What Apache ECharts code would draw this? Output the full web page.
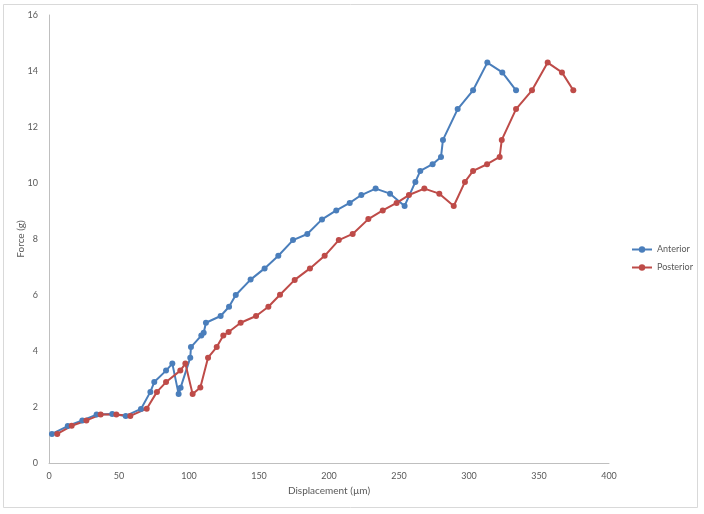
<!DOCTYPE html>
<html>
<head>
<meta charset="utf-8">
<script src="https://cdn.jsdelivr.net/npm/echarts@6/dist/echarts.min.js"></script>
<style>
  html, body { margin: 0; padding: 0; background: #fff; }
  #chart { width: 704px; height: 514px; }
</style>
</head>
<body>
<div id="chart"></div>
<script>
// displacement (µm) and force (g)
const anteriorX = [2.1, 13.4, 23.8, 34, 45.2, 54.8, 65.7, 72.4, 75.2, 83.6, 88.1, 92.6, 94, 100.9, 101.4,
  108.8, 110.5, 112.1, 122.6, 128.6, 133.4, 144, 154, 163.8, 174.3, 184.5, 195, 205.2, 214.8, 223.1,
  233.3, 243.6, 254, 261.7, 265.2, 274, 280, 281.4, 291.9, 302.9, 313.1, 323.8, 333.6];
const anteriorY = [1.04, 1.32, 1.52, 1.73, 1.75, 1.68, 1.93, 2.54, 2.89, 3.30, 3.55, 2.46, 2.69, 3.76, 4.14,
  4.55, 4.65, 5.01, 5.25, 5.58, 6.0, 6.55, 6.95, 7.40, 7.96, 8.18, 8.70, 9.02, 9.29, 9.57,
  9.80, 9.62, 9.18, 10.04, 10.43, 10.67, 10.93, 11.54, 12.64, 13.31, 14.30, 13.95, 13.31];

const posteriorX = [5.9, 16.2, 26.7, 36.9, 48.1, 58.1, 69.8, 77.1, 83.6, 93.8, 97.4, 102.6, 108.1, 113.6, 119.8,
  124.5, 128.3, 136.9, 147.9, 156.7, 165, 175.5, 186.4, 196.9, 207, 216.9, 228.1, 238.4, 248.3, 257.1,
  268.1, 278.8, 289.1, 297.1, 302.9, 312.9, 321.9, 323.4, 333.6, 345, 356.2, 366.4, 374.5];
const posteriorY = [1.04, 1.33, 1.52, 1.73, 1.73, 1.68, 1.94, 2.54, 2.89, 3.30, 3.55, 2.46, 2.70, 3.76, 4.14,
  4.55, 4.68, 5.01, 5.25, 5.58, 6.01, 6.54, 6.95, 7.40, 7.96, 8.18, 8.71, 9.02, 9.29, 9.57,
  9.80, 9.62, 9.18, 10.04, 10.43, 10.67, 10.93, 11.54, 12.64, 13.31, 14.30, 13.95, 13.31];

const seriesNames = ["Anterior", "Posterior"];
const seriesColors = ["#4a7ebb", "#be4b48"];

const chart = echarts.init(document.getElementById("chart"));

function pairs(xs, ys) {
  return xs.map((x, i) => [x, ys[i]]);
}

const font = "Lato, 'Open Sans', sans-serif";

const option = {
  backgroundColor: "#fff",
  animation: false,
  textStyle: { fontFamily: font },
  graphic: [{
    type: "rect",
    shape: { x: 3.5, y: 4.5, width: 694, height: 503 },
    style: { fill: null, stroke: "#d9d9d9", lineWidth: 1 },
    silent: true
  }],
  grid: { left: 49, right: 95, top: 15, bottom: 51 },
  legend: {
    orient: "vertical",
    left: 626,
    top: 240,
    itemWidth: 20,
    itemHeight: 8,
    itemGap: 9,
    textStyle: { color: "#595959", fontSize: 9, fontFamily: font },
    data: seriesNames
  },
  xAxis: {
    type: "value",
    min: 0, max: 400, interval: 50,
    name: "Displacement (µm)",
    nameLocation: "middle",
    nameGap: 22,
    nameTextStyle: { color: "#595959", fontSize: 10 },
    axisLine: { lineStyle: { color: "#bfbfbf" } },
    axisTick: { show: false },
    axisLabel: { color: "#595959", fontSize: 9, margin: 9 },
    splitLine: { show: false }
  },
  yAxis: {
    type: "value",
    min: 0, max: 16, interval: 2,
    name: "Force (g)",
    nameLocation: "middle",
    nameRotate: 90,
    nameGap: 23,
    nameMoveOverlap: false,
    nameTextStyle: { color: "#595959", fontSize: 10 },
    axisLine: { show: true, lineStyle: { color: "#bfbfbf" } },
    axisTick: { show: false },
    axisLabel: { color: "#595959", fontSize: 9, margin: 11 },
    splitLine: { show: false }
  },
  series: [
    {
      name: seriesNames[0],
      type: "line",
      data: pairs(anteriorX, anteriorY),
      color: seriesColors[0],
      symbol: "circle",
      symbolSize: 6,
      lineStyle: { width: 2 }
    },
    {
      name: seriesNames[1],
      type: "line",
      data: pairs(posteriorX, posteriorY),
      color: seriesColors[1],
      symbol: "circle",
      symbolSize: 6,
      lineStyle: { width: 2 }
    }
  ]
};

chart.setOption(option);
</script>
</body>
</html>
